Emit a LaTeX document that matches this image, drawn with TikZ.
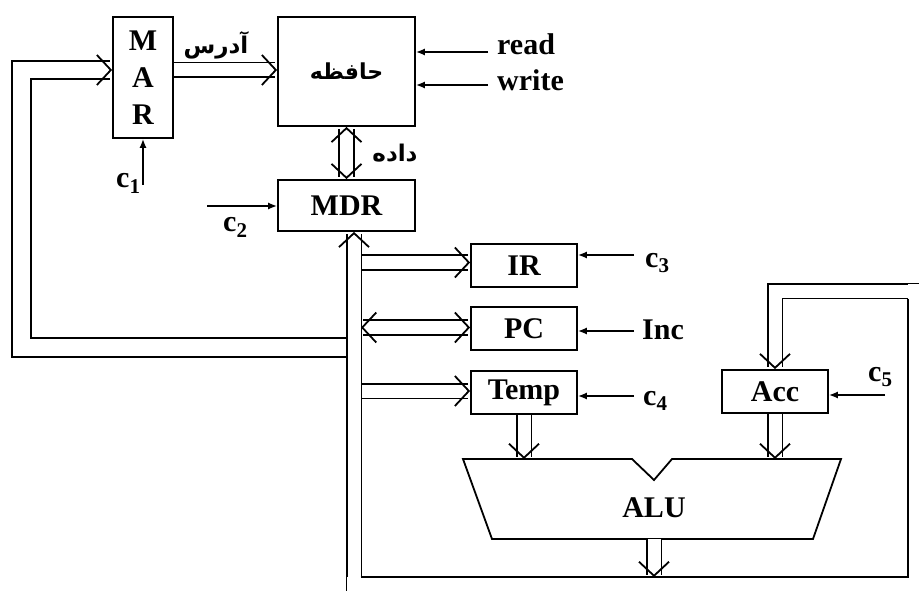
\documentclass[tikz,border=0pt]{standalone}
\usepackage{fontspec}
\setmainfont{Liberation Serif}
\newfontfamily\fafont[Script=Arabic]{DejaVu Sans}
\TeXXeTstate=1
\usetikzlibrary{arrows.meta}
\tikzstyle{reg} = [draw, line width=1.8pt, inner sep=0pt, minimum width=106pt, minimum height=43pt, font={\fontsize{30}{37}\selectfont\bfseries}]
\tikzstyle{lab} = [inner sep=0pt, anchor=base west, font={\fontsize{30}{37}\selectfont\bfseries}]
\tikzstyle{fa} = [inner sep=0pt, font={\fontsize{23}{27}\selectfont\fafont\bfseries}]
\tikzstyle{ctl} = [line width=1.5pt, -{Latex[length=9pt,width=7pt]}]
\tikzstyle{wire} = [line width=1.8pt]
\tikzstyle{bus} = [line width=1.8pt, double distance=13pt, -{Straight Barb[length=14pt,width=30pt,line width=1.8pt]}]
\tikzstyle{bibus} = [bus, {Straight Barb[length=14pt,width=30pt,line width=1.8pt]}-{Straight Barb[length=14pt,width=30pt,line width=1.8pt]}]
\newcommand{\fa}[1]{\beginR#1\endR}

\begin{document}
\begin{tikzpicture}[x=1pt,y=-1pt]
    \useasboundingbox (0,0) rectangle (919,591);
    \node[reg,minimum width=60pt,minimum height=121pt,align=center](MAR) at (143,77.5){M\\A\\R};
    \node[reg,minimum width=137pt,minimum height=109pt](mem) at (346.5,71.5){\fafont\fontsize{22}{26}\selectfont\fa{حافظه}};
    \node[reg,minimum width=137pt,minimum height=51pt](MDR) at (346.5,205.5){MDR};
    \node[reg](IR) at (524,265.5){IR};
    \node[reg](PC) at (524,328.5){PC};
    \node[reg](Temp) at (524,392.5){Temp};
    \node[reg](Acc) at (775,391.5){Acc};
    \coordinate(tl) at (463,459);
    \coordinate(nl) at (632,459);
    \coordinate(nb) at (654,480);
    \coordinate(nr) at (672,459);
    \coordinate(tr) at (841,459);
    \coordinate(br) at (813,539);
    \coordinate(bl) at (492,539);
    \draw[line width=1.8pt](tl)--(nl)--(nb)--(nr)--(tr)--(br)--(bl)--cycle;
    \node[lab,anchor=center](ALU) at (654,508){ALU};
    \node[fa](adr) at (216,45){\fa{آدرس}};
    \node[fa](data) at (395,153){\fa{داده}};
    \node[lab](read) at (497,55){read};
    \node[lab](write) at (497,91){write};
    \node[lab](c1) at (116,188){c\textsubscript{1}};
    \node[lab](c2) at (223,232){c\textsubscript{2}};
    \node[lab](c3) at (645,267){c\textsubscript{3}};
    \node[lab](inc) at (642,339){Inc};
    \node[lab](c4) at (643,405){c\textsubscript{4}};
    \node[lab](c5) at (868,381){c\textsubscript{5}};
    \coordinate(rd) at (488,52);
    \coordinate(wr) at (488,85);
    \coordinate(in1) at (143,185);
    \coordinate(in2) at (207,206);
    \coordinate(in3) at (634,255);
    \coordinate(in6) at (634,331);
    \coordinate(in4) at (634,396);
    \coordinate(in5) at (885,395);
    \draw[ctl](rd)--(mem.east|-rd);
    \draw[ctl](wr)--(mem.east|-wr);
    \draw[ctl](in1)--(MAR.south);
    \draw[ctl](in2)--(MDR.west|-in2);
    \draw[ctl](in3)--(IR.east|-in3);
    \draw[ctl](in6)--(PC.east|-in6);
    \draw[ctl](in4)--(Temp.east|-in4);
    \draw[ctl](in5)--(Acc.east|-in5);
    \coordinate(ab) at (0,70);
    \coordinate(lb) at (347,347.5);
    \coordinate(lc) at (21.5,70);
    \coordinate(ir) at (361,262.5);
    \coordinate(pc) at (361,327.5);
    \coordinate(tp) at (361,391);
    \coordinate(bx) at (354,577);
    \coordinate(bend) at (346.5,591);
    \coordinate(lp) at (360.5,577);
    \coordinate(fr) at (908,298.5);
    \coordinate(fb) at (908,291);
    \coordinate(fo) at (908,283.5);
    \coordinate(edge) at (919,283.5);
    \draw[bus,double distance=16.5pt](lb)-|(lc)--(MAR.west|-ab);
    \draw[bus](MAR.east|-ab)--(mem.west|-ab);
    \draw[bibus](mem.south)--(MDR.north);
    \draw[bus](ir)--(IR.west|-ir);
    \draw[bibus](pc)--(PC.west|-pc);
    \draw[bus](tp)--(Temp.west|-tp);
    \draw[bus](Temp.south)--(Temp.south|-tl);
    \draw[bus](Acc.south)--(Acc.south|-tr);
    \draw[bus](nb|-bl)--(nb|-bx);
    \draw[bus](bx)--(MDR.south-|bx);
    \draw[wire](bend|-bx)--(bend);
    \draw[wire](lp)-|(fr);
    \draw[bus](fb)--(Acc.north|-fb)--(Acc.north);
    \draw[wire](fo)--(edge);
\end{tikzpicture}
\end{document}
